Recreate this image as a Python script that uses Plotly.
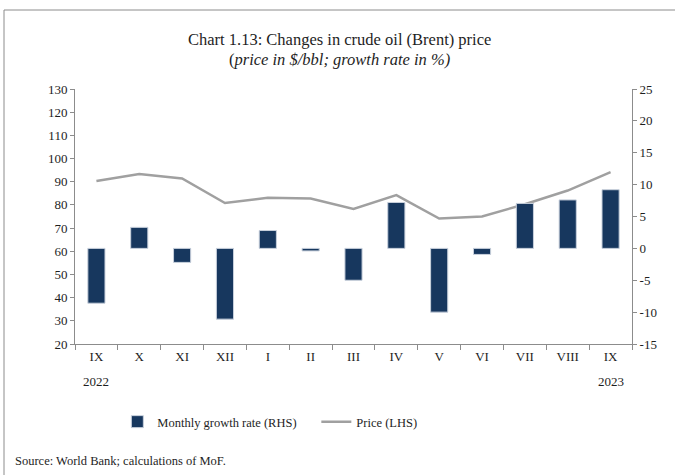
import plotly.graph_objects as go

months = ["IX 2022", "X", "XI", "XII", "I", "II", "III", "IV", "V", "VI", "VII", "VIII", "IX 2023"]
month_labels = ["IX", "X", "XI", "XII", "I", "II", "III", "IV", "V", "VI", "VII", "VIII", "IX"]
growth = [-8.6, 3.3, -2.2, -11.1, 2.8, -0.4, -5.0, 7.2, -10.0, -0.95, 7.05, 7.6, 9.2]
price = [90.3, 93.3, 91.4, 80.8, 83.1, 82.8, 78.3, 84.2, 74.1, 75.0, 80.3, 86.2, 94.1]
rhs_ticks = [-15, -10, -5, 0, 5, 10, 15, 20, 25]

font_family = "Liberation Serif"
axis_grey = "#8c8c8c"

# plot area in pixels: x 75..632, y 89..344
def px_x(px):
    return (px - 75) / 557

def px_y(py):
    return (344 - py) / 255

fig = go.Figure()

fig.add_trace(
    go.Bar(
        x=months,
        y=growth,
        name="Monthly growth rate (RHS)",
        marker=dict(color="#17375E", line=dict(color="#c8d0dc", width=1)),
        width=0.4,
        yaxis="y2",
    )
)

fig.add_trace(
    go.Scatter(
        x=months,
        y=price,
        name="Price (LHS)",
        mode="lines",
        line=dict(color="#a0a0a0", width=2.5),
        yaxis="y",
    )
)

fig.update_layout(
    width=675,
    height=475,
    margin=dict(l=75, r=43, t=89, b=131),
    paper_bgcolor="white",
    plot_bgcolor="white",
    font=dict(family=font_family, size=13, color="#1e1e1e"),
    showlegend=True,
    xaxis=dict(
        showline=True,
        linecolor=axis_grey,
        ticks="outside",
        tickson="boundaries",
        ticklen=5,
        tickcolor=axis_grey,
        showgrid=False,
        tickmode="array",
        tickvals=months,
        ticktext=month_labels,
        tickfont=dict(size=13),
    ),
    yaxis=dict(
        range=[20, 130],
        dtick=10,
        showline=True,
        linecolor=axis_grey,
        ticks="outside",
        ticklen=4,
        tickcolor=axis_grey,
        showgrid=False,
        zeroline=False,
        tickfont=dict(size=13),
    ),
    yaxis2=dict(
        range=[-15, 25],
        tickmode="array",
        tickvals=rhs_ticks,
        ticktext=[str(t) for t in rhs_ticks],
        overlaying="y",
        side="right",
        showline=True,
        linecolor=axis_grey,
        ticks="outside",
        ticklen=4,
        tickcolor=axis_grey,
        showgrid=False,
        zeroline=False,
        tickfont=dict(size=13),
    ),
    legend=dict(
        orientation="h",
        x=0.076,
        xanchor="left",
        y=px_y(422),
        yanchor="middle",
        font=dict(size=12.5),
        traceorder="normal",
        itemwidth=30,
        entrywidth=154,
    ),
    annotations=[
        dict(
            text="Chart 1.13: Changes in crude oil (Brent) price",
            xref="paper", yref="paper",
            x=px_x(339), y=px_y(39),
            xanchor="center", yanchor="middle",
            showarrow=False,
            font=dict(size=16.5),
        ),
        dict(
            text="(<i>price in $/bbl; growth rate in %)</i>",
            xref="paper", yref="paper",
            x=px_x(339), y=px_y(60),
            xanchor="center", yanchor="middle",
            showarrow=False,
            font=dict(size=16.5),
        ),
        dict(
            text="2022",
            xref="x", yref="paper",
            x=months[0], y=px_y(381),
            xanchor="center", yanchor="middle",
            showarrow=False,
            font=dict(size=13),
        ),
        dict(
            text="2023",
            xref="x", yref="paper",
            x=months[-1], y=px_y(381),
            xanchor="center", yanchor="middle",
            showarrow=False,
            font=dict(size=13),
        ),
        dict(
            text="Source: World Bank; calculations of MoF.",
            xref="paper", yref="paper",
            x=px_x(13), y=px_y(461),
            xanchor="left", yanchor="middle",
            showarrow=False,
            font=dict(size=12.5),
        ),
    ],
    shapes=[
        dict(
            type="line",
            xref="paper", yref="paper",
            x0=px_x(4), x1=px_x(690),
            y0=px_y(10), y1=px_y(10),
            line=dict(color="#8c8c8c", width=1),
        ),
        dict(
            type="line",
            xref="paper", yref="paper",
            x0=px_x(4), x1=px_x(4),
            y0=px_y(10), y1=px_y(490),
            line=dict(color="#8c8c8c", width=1),
        ),
    ],
)

fig.write_html(
    "out.html",
    config={"displayModeBar": False},
    post_script="document.body.style.margin='0';",
)
